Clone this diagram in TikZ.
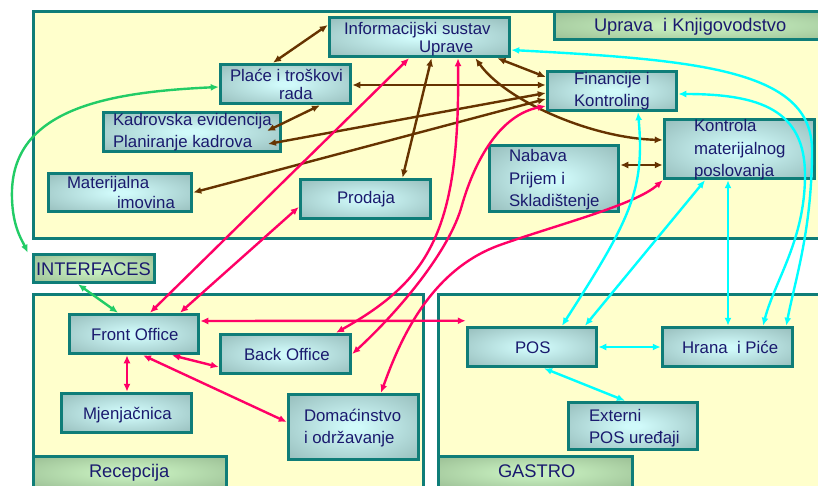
\documentclass[tikz,border=0pt]{standalone}
\usepackage{fontspec}
\setmainfont{Liberation Sans}
\usetikzlibrary{arrows.meta}
\definecolor{framefill}{HTML}{FFFFCC}
\definecolor{tealb}{HTML}{0F7D78}
\definecolor{boxout}{HTML}{8CB2B0}
\definecolor{boxin}{HTML}{D0FAFA}
\definecolor{lblout}{HTML}{8CAE86}
\definecolor{lblin}{HTML}{C6EEBE}
\definecolor{navy}{HTML}{1A1A6E}
\definecolor{brownc}{HTML}{663300}
\definecolor{magc}{HTML}{FF0066}
\definecolor{cyanc}{HTML}{00FFFF}
\definecolor{greenc}{HTML}{22CC66}
\pgfdeclareradialshading{boxshade}{\pgfpoint{0bp}{0bp}}{color(0bp)=(boxin); color(3bp)=(boxin); color(42bp)=(boxout); color(75bp)=(boxout)}
\pgfdeclareradialshading{lblshade}{\pgfpoint{0bp}{0bp}}{color(0bp)=(lblin); color(6bp)=(lblin); color(46bp)=(lblout); color(75bp)=(lblout)}
\begin{document}
\begin{tikzpicture}[x=1pt,y=-1pt,
  frame/.style={draw=tealb, fill=framefill, line width=3.5pt},
  lbl/.style={draw=tealb, line width=3.5pt, shading=lblshade, inner sep=0pt, outer sep=1.75pt},
  box/.style={draw=tealb, line width=3.5pt, shading=boxshade, inner sep=0pt, outer sep=1.75pt},
  txt/.style={anchor=base west, inner sep=0pt, outer sep=0pt, text=navy, font=\fontsize{16.8}{20}\selectfont},
  ltxt/.style={txt, font=\fontsize{18.3}{22}\selectfont},
  conn/.style={line width=2.4pt, {Latex[length=8pt,width=7pt]}-{Latex[length=8pt,width=7pt]}},
  br/.style={conn, draw=brownc},
  mg/.style={conn, draw=magc},
  cy/.style={conn, draw=cyanc},
  gr/.style={conn, draw=greenc}
]
\useasboundingbox (0,0) rectangle (818,486);
\fill[white] (0,0) rectangle (818,486);
\clip (0,0) rectangle (818,486);

% frames
\path[frame] (33.5,11.5) rectangle (840,238.5);
\path[frame] (33.5,294.5) rectangle (423.5,500);
\path[frame] (438.5,294.5) rectangle (840,500);

% section labels
\node[lbl, minimum width=285pt, minimum height=28pt] (uprl) at (697,25.5) {};
\node[lbl, minimum width=121pt, minimum height=28pt] (intf) at (94,268.5) {};
\node[lbl, minimum width=193pt, minimum height=32pt] (recl) at (130,472.5) {};
\node[lbl, minimum width=194pt, minimum height=32pt] (gasl) at (535.5,472.5) {};

% boxes
\node[box, minimum width=180pt, minimum height=39pt] (info) at (419.5,37) {};
\node[box, minimum width=130pt, minimum height=39pt] (place) at (285.5,84) {};
\node[box, minimum width=177pt, minimum height=39pt] (kadr) at (192,132) {};
\node[box, minimum width=143pt, minimum height=38pt] (mat) at (120,192.5) {};
\node[box, minimum width=130pt, minimum height=39pt] (prod) at (365.5,199) {};
\node[box, minimum width=129pt, minimum height=39pt] (fin) at (612,91) {};
\node[box, minimum width=150pt, minimum height=59pt] (kont) at (739.5,149) {};
\node[box, minimum width=129pt, minimum height=66pt] (nab) at (554,178.5) {};
\node[box, minimum width=129pt, minimum height=39pt] (fo) at (134,334) {};
\node[box, minimum width=130pt, minimum height=39pt] (bo) at (285.5,354) {};
\node[box, minimum width=130pt, minimum height=39pt] (mje) at (126.5,413) {};
\node[box, minimum width=130pt, minimum height=65pt] (dom) at (353.5,427) {};
\node[box, minimum width=129pt, minimum height=39pt] (pos) at (532,347) {};
\node[box, minimum width=130pt, minimum height=39pt] (hip) at (727.5,347) {};
\node[box, minimum width=129pt, minimum height=47pt] (ext) at (633,426) {};

% texts
\node[txt] (t-info1) at (344,35) {Informacijski sustav};
\node[txt] (t-info2) at (419,53) {Uprave};
\node[txt] (t-pl1) at (230,82) {Plaće i troškovi};
\node[txt] (t-pl2) at (279,100) {rada};
\node[txt] (t-kd1) at (113,126) {Kadrovska evidencija};
\node[txt] (t-kd2) at (113,148) {Planiranje kadrova};
\node[txt] (t-mat1) at (67,189) {Materijalna};
\node[txt] (t-mat2) at (117,208) {imovina};
\node[txt] (t-prod) at (337,204) {Prodaja};
\node[txt] (t-fin1) at (574,85) {Financije i};
\node[txt] (t-fin2) at (574,107) {Kontroling};
\node[txt] (t-ko1) at (694,132) {Kontrola};
\node[txt] (t-ko2) at (694,155) {materijalnog};
\node[txt] (t-ko3) at (694,177) {poslovanja};
\node[txt] (t-nb1) at (509,162) {Nabava};
\node[txt] (t-nb2) at (509,185) {Prijem i};
\node[txt] (t-nb3) at (509,207) {Skladištenje};
\node[ltxt] (t-upr) at (594,32) {Uprava\ \ i Knjigovodstvo};
\node[ltxt] (t-int) at (36,275) {INTERFACES};
\node[txt] (t-fo) at (91,340) {Front Office};
\node[txt] (t-bo) at (244,360) {Back Office};
\node[txt] (t-mj) at (83,419) {Mjenjačnica};
\node[txt] (t-do1) at (304,421) {Domaćinstvo};
\node[txt] (t-do2) at (304,443) {i održavanje};
\node[ltxt] (t-rec) at (89,477) {Recepcija};
\node[txt] (t-pos) at (515,353) {POS};
\node[txt] (t-hip) at (682,353) {Hrana\ \ i Piće};
\node[txt] (t-ex1) at (589,421) {Externi};
\node[txt] (t-ex2) at (589,443) {POS uređaji};
\node[ltxt] (t-gas) at (498,477) {GASTRO};

% brown connectors
\draw[br] ([xshift=-12.5pt]place.north) -- ([yshift=12pt]info.west);
\draw[br] ([yshift=-1pt]place.east) -- ([yshift=6pt]fin.west);
\draw[br] ([xshift=34.5pt]place.south) -- ([xshift=75pt,yshift=1pt]kadr.center);
\draw[br] ([yshift=-2pt]fin.west) -- ([xshift=76pt,yshift=-12pt]kadr.center);
\draw[br] ([yshift=-8pt]fin.west) -- (mat.east);
\draw[br] ([xshift=12pt]info.south) -- ([xshift=37pt]prod.north);
\draw[br] ([xshift=78pt]info.south) -- ([yshift=14pt]fin.west);
\draw[br] ([xshift=56pt]info.south) .. controls (505,100) and (590,138) .. ([yshift=9pt]kont.west);
\draw[br] ([yshift=13.5pt]nab.east) -- ([yshift=-16pt]kont.west);

% magenta connectors
\draw[mg] ([xshift=16pt]fo.north) -- ([xshift=-10.5pt]info.south);
\draw[mg] ([xshift=46pt]fo.north) -- ([yshift=-8pt]prod.west);
\draw[mg] ([xshift=38.5pt]info.south) .. controls (460,230) and (430,280) .. ([xshift=50.5pt]bo.north);
\draw[mg] ([yshift=-15pt]fin.west) .. controls (500,115) and (475,160) .. (462,205)
   .. controls (450,250) and (400,310) .. (bo.east);
\draw[mg] ([xshift=27.5pt]dom.north) .. controls (400,340) and (430,270) .. (500,245)
   .. controls (556,225) and (635,205) .. (kont.south west);
\draw[mg] ([yshift=13pt]fo.east) -- ([yshift=5pt]pos.north west);
\draw[mg] ([xshift=38pt]fo.south) -- ([yshift=-13pt]bo.west);
\draw[mg] ([xshift=-7pt]fo.south) -- ([xshift=0.5pt]mje.north);
\draw[mg] ([xshift=9pt]fo.south) -- ([yshift=5pt]dom.west);

% cyan connectors
\draw[cy] ([yshift=-13pt]info.east) .. controls (700,60) and (812,70) .. (812,150)
   .. controls (812,230) and (795,280) .. ([xshift=-8pt]hip.north east);
\draw[cy] ([yshift=-3pt]fin.east) .. controls (760,94) and (805,110) .. (805,175)
   .. controls (805,240) and (775,280) .. ([xshift=35.5pt]hip.north);
\draw[cy] ([xshift=26pt]fin.south) .. controls (645,190) and (630,220) .. ([xshift=30pt]pos.north);
\draw[cy] ([xshift=-34.5pt]kont.south) -- ([xshift=53pt]pos.north);
\draw[cy] ([xshift=-11.5pt]kont.south) -- ([xshift=0.5pt]hip.north);
\draw[cy] (pos.east) -- (hip.west);
\draw[cy] ([xshift=12pt]pos.south) -- ([xshift=-8pt]ext.north);

% green connectors
\draw[gr] ([yshift=-3pt]place.west) .. controls (110,92) and (15,108) .. (12,190)
   .. controls (11,225) and (22,240) .. ([xshift=-4pt]intf.north west);
\draw[gr] ([xshift=-16pt]intf.south) -- ([xshift=-16pt]fo.north);
\end{tikzpicture}
\end{document}
